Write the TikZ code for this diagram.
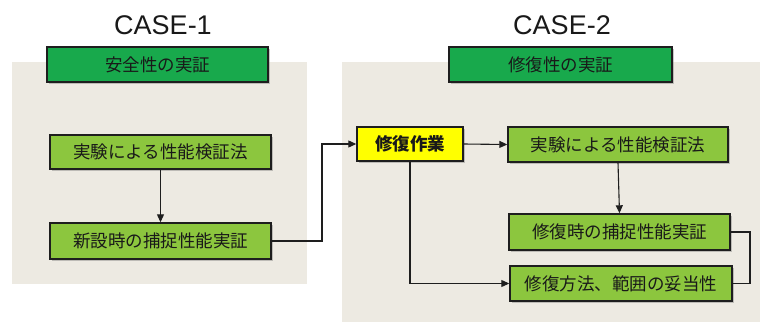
\documentclass[tikz,border=0pt]{standalone}
\usepackage{fontspec}
\setmainfont{Liberation Sans}
\newfontfamily\jp{Noto Sans CJK JP}
\usetikzlibrary{arrows.meta,shadows}
\definecolor{panelbg}{HTML}{EDEAE2}
\definecolor{darkgr}{HTML}{18A94C}
\definecolor{lightgr}{HTML}{8CC63E}
\definecolor{yel}{HTML}{FFFF00}
\definecolor{edge}{HTML}{1E1E1E}
\tikzset{
  box/.style={draw=edge, line width=1.4pt, inner sep=0pt, align=center,
    font=\jp\fontsize{17.5}{20}\selectfont, text=black!90,
    drop shadow={shadow xshift=1.6pt, shadow yshift=-1.6pt, opacity=0.35, fill=black!60}},
  titlebox/.style={box, fill=darkgr},
  stepbox/.style={box, fill=lightgr},
  workbox/.style={box, fill=yel, font=\jp\bfseries\fontsize{17.5}{20}\selectfont},
  casetitle/.style={font=\fontsize{27}{30}\selectfont, text=black!90},
  conn/.style={draw=edge, line width=1.1pt},
  arr/.style={conn, -{Triangle[length=8pt,width=7pt]}}
}
\begin{document}
\begin{tikzpicture}[x=1pt,y=-1pt]
\useasboundingbox (0,0) rectangle (760,322);
\fill[white] (0,0) rectangle (760,322);
% panels
\fill[panelbg] (12,62) rectangle (307,284);
\fill[panelbg] (342,62) rectangle (760,322);
% titles
\node[casetitle] (case1) at (163,25) {CASE-1};
\node[casetitle] (case2) at (562,25) {CASE-2};
% boxes
\node[titlebox, minimum width=221pt, minimum height=35pt] (anzen) at (157.5,64.5) {安全性の実証};
\node[titlebox, minimum width=223pt, minimum height=35pt] (shufukusei) at (560.5,64.5) {修復性の実証};
\node[stepbox, minimum width=221pt, minimum height=34pt] (L1) at (160.5,152) {実験による性能検証法};
\node[stepbox, minimum width=221pt, minimum height=36pt] (L2) at (160.5,241) {新設時の捕捉性能実証};
\node[workbox, minimum width=106pt, minimum height=34pt] (Y) at (410,144) {修復作業};
\node[stepbox, minimum width=220pt, minimum height=35pt] (R1) at (618,144.5) {実験による性能検証法};
\node[stepbox, minimum width=221pt, minimum height=36pt] (R2) at (619.5,232) {修復時の捕捉性能実証};
\node[stepbox, minimum width=222pt, minimum height=35pt] (R3) at (621,283.5) {修復方法、範囲の妥当性};
% connectors
\coordinate (c1) at (322,144);
\coordinate (c2) at (750,283.5);
\draw[arr] (L1.south) -- (L2.north);
\draw[arr] (L2.east) -| (c1) -- (Y.west);
\draw[arr] (Y.east) -- (R1.west);
\draw[arr] (R1.south) -- (R2.north);
\draw[conn] (R2.east) -| (c2) -- (R3.east);
\draw[arr] (Y.south) |- (R3.west);
\end{tikzpicture}
\end{document}
